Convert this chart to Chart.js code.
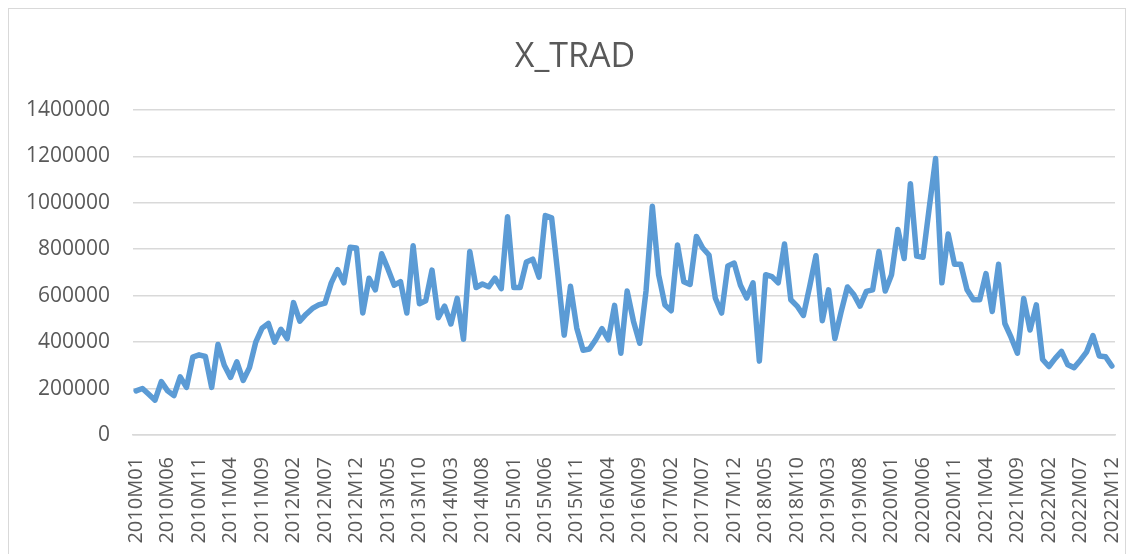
<!DOCTYPE html>
<html>
<head>
<meta charset="utf-8">
<script src="https://cdn.jsdelivr.net/npm/chart.js@4.4.0/dist/chart.umd.min.js"></script>
<style>
  html, body { margin: 0; padding: 0; background: #fff; }
  #wrap { position: relative; width: 1130px; height: 554px; }
  #frame { position: absolute; left: 8px; top: 8px; width: 1116px; height: 560px; border: 1px solid #d9d9d9; }
  #chart { position: absolute; left: 0; top: 0; }
</style>
</head>
<body>
<div id="wrap">
  <div id="frame"></div>
  <canvas id="chart" width="1130" height="554"></canvas>
</div>
<script>
// monthly categories 2010M01 .. 2022M12
var years = [2010, 2011, 2012, 2013, 2014, 2015, 2016, 2017, 2018, 2019, 2020, 2021, 2022];
var months = ['01', '02', '03', '04', '05', '06', '07', '08', '09', '10', '11', '12'];
var labels = [];
years.forEach(function (y) {
    months.forEach(function (m) { labels.push(y + 'M' + m); });
});

// X_TRAD values
var xTrad = [
    190000, 200000, 175000, 150000, 230000, 190000, 170000, 250000, 205000, 335000, 345000, 338000,
    205000, 390000, 300000, 248000, 315000, 235000, 290000, 400000, 460000, 480000, 400000, 455000,
    415000, 570000, 490000, 520000, 545000, 560000, 568000, 655000, 712000, 655000, 808000, 805000,
    525000, 675000, 625000, 780000, 715000, 645000, 660000, 525000, 815000, 565000, 578000, 710000,
    505000, 555000, 478000, 588000, 412000, 790000, 635000, 650000, 638000, 675000, 630000, 940000,
    635000, 635000, 745000, 757000, 680000, 945000, 935000, 690000, 430000, 640000, 460000, 365000,
    370000, 410000, 458000, 410000, 558000, 352000, 620000, 490000, 395000, 620000, 985000, 690000,
    560000, 535000, 818000, 660000, 648000, 855000, 805000, 775000, 590000, 525000, 728000, 740000,
    645000, 590000, 655000, 318000, 690000, 682000, 655000, 822000, 582000, 555000, 515000, 640000,
    772000, 492000, 625000, 415000, 531000, 637000, 605000, 555000, 618000, 625000, 790000, 620000,
    690000, 885000, 760000, 1082000, 770000, 765000, 980000, 1190000, 655000, 865000, 735000, 735000,
    625000, 582000, 582000, 695000, 532000, 735000, 480000, 420000, 352000, 588000, 452000, 560000,
    325000, 295000, 330000, 360000, 302000, 290000, 322000, 358000, 428000, 340000, 337000, 297000
];

var yTicks = [0, 200000, 400000, 600000, 800000, 1000000, 1200000, 1400000];
var labelEvery = 5;

var txt = '#595959';
var grid = '#d9d9d9';
var fam = '"Open Sans", "Liberation Sans", sans-serif';

function initLineChart() {
    var ctx = document.getElementById('chart').getContext('2d');
    new Chart(ctx, {
        type: 'line',
        data: {
            labels: labels,
            datasets: [{
                label: 'X_TRAD',
                data: xTrad,
                borderColor: '#5b9bd5',
                backgroundColor: '#5b9bd5',
                borderWidth: 5.5,
                pointRadius: 0,
                tension: 0,
                borderJoinStyle: 'round',
                borderCapStyle: 'round'
            }]
        },
        options: {
            responsive: false,
            animation: false,
            layout: { padding: { top: 37, left: 20, right: 0, bottom: 0 } },
            plugins: {
                legend: { display: false },
                tooltip: { enabled: false },
                title: {
                    display: true,
                    text: 'X_TRAD',
                    color: txt,
                    font: { family: fam, size: 34, weight: 'normal' },
                    padding: { top: 0, bottom: 32 }
                }
            },
            scales: {
                x: {
                    offset: true,
                    grid: { display: false },
                    border: { display: true, color: grid, width: 1.5 },
                    afterFit: function (axis) {
                        axis.height = 119;
                        axis.paddingLeft = 0;
                        axis.paddingRight = 15;
                    },
                    ticks: {
                        autoSkip: false,
                        minRotation: 90,
                        maxRotation: 90,
                        padding: 14,
                        color: txt,
                        font: { family: fam, size: 20 },
                        callback: function (val, i) {
                            return i % labelEvery === 0 ? labels[i] : null;
                        }
                    }
                },
                y: {
                    min: yTicks[0],
                    max: yTicks[yTicks.length - 1],
                    afterBuildTicks: function (axis) {
                        axis.ticks = yTicks.map(function (v) { return { value: v }; });
                    },
                    afterFit: function (axis) {
                        axis.width = 113;
                    },
                    grid: { color: grid, lineWidth: 1.5, drawTicks: false },
                    border: { display: false },
                    ticks: {
                        padding: 23,
                        color: txt,
                        font: { family: fam, size: 21 },
                        callback: function (v) { return String(v); }
                    }
                }
            }
        }
    });
}

document.addEventListener('DOMContentLoaded', initLineChart);
</script>
</body>
</html>
